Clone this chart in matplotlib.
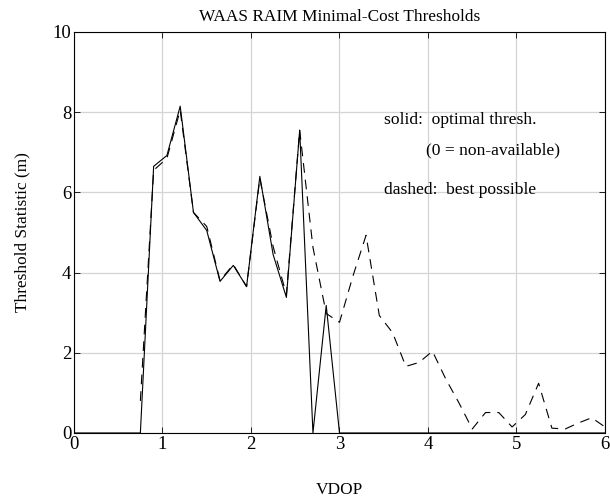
import numpy as np
import matplotlib
matplotlib.use("Agg")
import matplotlib.pyplot as plt

# VDOP bins
vdop = [0.0, 0.15, 0.3, 0.45, 0.6, 0.75, 0.9, 1.05, 1.2, 1.35, 1.5,
        1.65, 1.8, 1.95, 2.1, 2.25, 2.4, 2.55, 2.7, 2.85, 3.0,
        3.15, 3.3, 3.45, 3.6, 3.75, 3.9, 4.05, 4.2, 4.35, 4.5,
        4.65, 4.8, 4.95, 5.1, 5.25, 5.4, 5.55, 5.7, 5.85, 6.0]

# solid: optimal threshold (0 = non-available)
optimal = [0, 0, 0, 0, 0, 0, 6.65, 6.92, 8.15, 5.5, 5.05,
           3.78, 4.18, 3.65, 6.4, 4.45, 3.38, 7.55, 0, 3.18, 0,
           0, 0, 0, 0, 0, 0, 0, 0, 0, 0,
           0, 0, 0, 0, 0, 0, 0, 0, 0, 0]

# dashed: best possible
best = [np.nan, np.nan, np.nan, np.nan, np.nan, 0.8, 6.55, 6.85, 8.05, 5.5, 5.15,
        3.8, 4.2, 3.65, 6.35, 4.65, 3.45, 7.55, 4.63, 2.98, 2.76,
        3.9, 4.93, 2.93, 2.5, 1.66, 1.76, 2.04, 1.35, 0.75, 0.1,
        0.51, 0.51, 0.15, 0.46, 1.24, 0.12, 0.1, 0.25, 0.38, 0.15]

plt.rcParams['font.family'] = ['Liberation Serif', 'DejaVu Serif']
plt.rcParams['lines.scale_dashes'] = False

fig = plt.figure(figsize=(6.1, 4.99), dpi=100)
ax = fig.add_axes([0.1213, 0.1323, 0.8705, 0.8036])

ax.plot(vdop, optimal, color='black', lw=0.8)
ax.plot(vdop, best, color='black', lw=0.8, dashes=(7, 5))

ax.set_xlim(0, 6)
ax.set_ylim(0, 10)
ax.set_xticks([0, 1, 2, 3, 4, 5, 6])
ax.set_yticks([0, 2, 4, 6, 8, 10])
ax.grid(True, color='#d4d4d4', lw=0.9)
ax.set_axisbelow(True)
ax.tick_params(direction='in', length=4, width=0.6, top=True, right=True,
               labelsize=13.5, pad=2)
for s in ax.spines.values():
    s.set_linewidth(0.8)

ax.set_title("WAAS RAIM Minimal-Cost Thresholds", fontsize=12.4, pad=8)
ax.set_xlabel("VDOP", fontsize=12.4, labelpad=21)
ax.set_ylabel("Threshold Statistic (m)", fontsize=12.4, labelpad=16)

ax.text(3.5, 7.8, "solid:  optimal thresh.", fontsize=12.6, va='center')
ax.text(3.98, 7.05, "(0 = non-available)", fontsize=12.6, va='center')
ax.text(3.5, 6.05, "dashed:  best possible", fontsize=12.6, va='center')

fig.savefig("out.png", dpi=100)
